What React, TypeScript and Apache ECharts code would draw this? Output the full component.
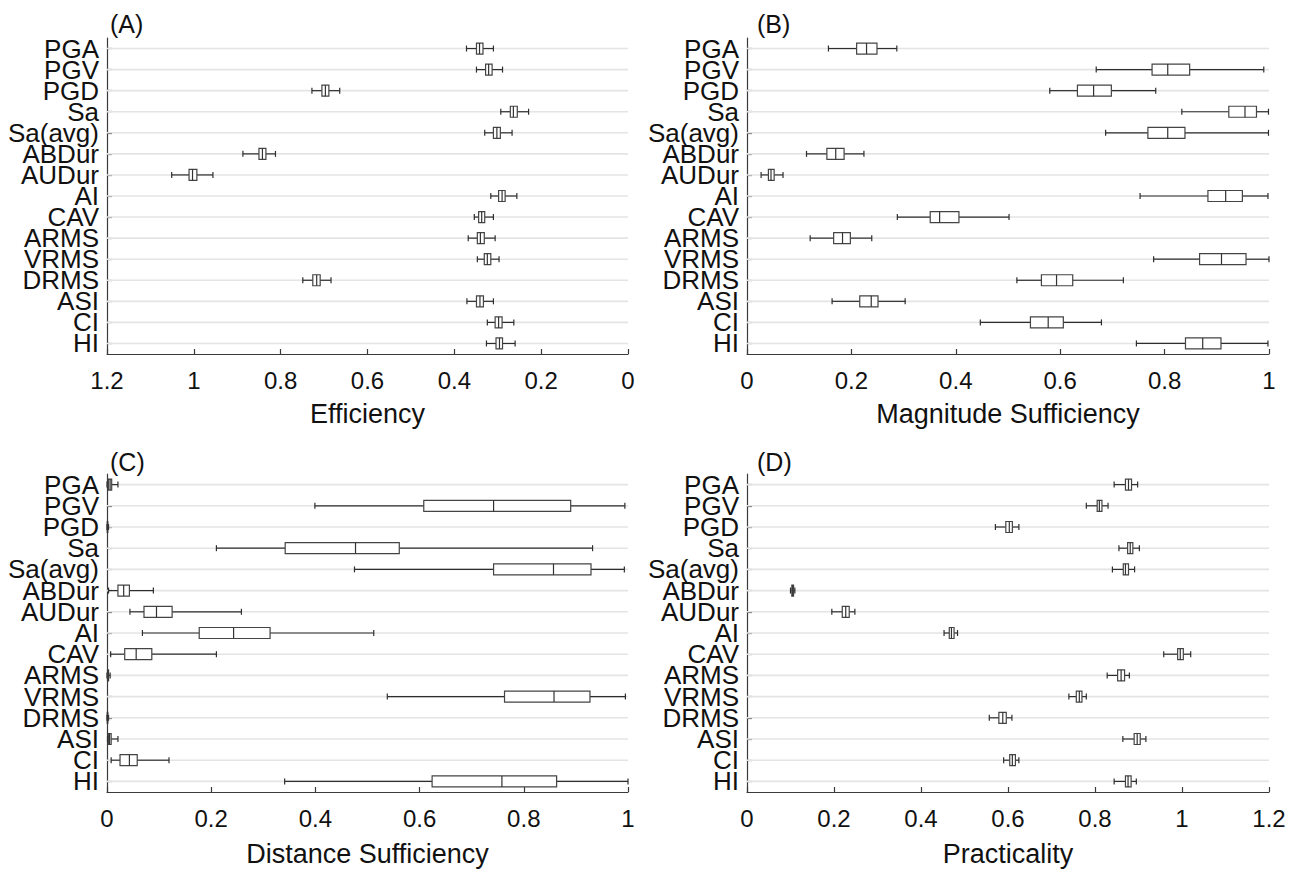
import React, { useEffect, useRef } from "react";
import * as echarts from "echarts";

const categories = ["PGA", "PGV", "PGD", "Sa", "Sa(avg)", "ABDur", "AUDur", "AI", "CAV", "ARMS", "VRMS", "DRMS", "ASI", "CI", "HI"];

// each row: [min, q1, median, q3, max]
const efficiency = [
  [0.310, 0.334, 0.342, 0.349, 0.372],
  [0.289, 0.313, 0.321, 0.328, 0.349],
  [0.664, 0.689, 0.697, 0.705, 0.728],
  [0.229, 0.255, 0.264, 0.271, 0.293],
  [0.267, 0.294, 0.302, 0.310, 0.330],
  [0.812, 0.834, 0.842, 0.850, 0.887],
  [0.956, 0.993, 1.003, 1.011, 1.051],
  [0.256, 0.283, 0.290, 0.298, 0.316],
  [0.310, 0.330, 0.337, 0.344, 0.354],
  [0.306, 0.331, 0.340, 0.347, 0.368],
  [0.297, 0.316, 0.324, 0.331, 0.347],
  [0.684, 0.709, 0.717, 0.726, 0.749],
  [0.310, 0.333, 0.341, 0.349, 0.371],
  [0.263, 0.290, 0.298, 0.306, 0.324],
  [0.260, 0.289, 0.296, 0.304, 0.326],
];

const magnitudeSufficiency = [
  [0.156, 0.210, 0.229, 0.249, 0.287],
  [0.669, 0.776, 0.806, 0.848, 0.990],
  [0.580, 0.633, 0.664, 0.698, 0.783],
  [0.833, 0.923, 0.954, 0.976, 0.999],
  [0.687, 0.768, 0.806, 0.839, 0.999],
  [0.114, 0.153, 0.170, 0.186, 0.224],
  [0.027, 0.041, 0.046, 0.052, 0.069],
  [0.753, 0.883, 0.917, 0.949, 0.998],
  [0.288, 0.351, 0.369, 0.406, 0.502],
  [0.121, 0.166, 0.183, 0.198, 0.239],
  [0.779, 0.867, 0.909, 0.956, 1.000],
  [0.517, 0.564, 0.593, 0.624, 0.721],
  [0.163, 0.216, 0.238, 0.251, 0.303],
  [0.447, 0.543, 0.577, 0.606, 0.679],
  [0.746, 0.840, 0.873, 0.908, 0.998],
];

const distanceSufficiency = [
  [0.000, 0.003, 0.006, 0.009, 0.021],
  [0.399, 0.608, 0.742, 0.890, 0.994],
  [0.000, 0.0005, 0.001, 0.0015, 0.003],
  [0.210, 0.342, 0.477, 0.561, 0.932],
  [0.475, 0.742, 0.857, 0.929, 0.993],
  [0.003, 0.021, 0.032, 0.043, 0.089],
  [0.044, 0.071, 0.095, 0.125, 0.258],
  [0.068, 0.177, 0.243, 0.313, 0.512],
  [0.007, 0.034, 0.056, 0.086, 0.210],
  [0.000, 0.001, 0.002, 0.003, 0.006],
  [0.538, 0.763, 0.858, 0.927, 0.995],
  [0.000, 0.0005, 0.001, 0.0015, 0.003],
  [0.001, 0.003, 0.005, 0.008, 0.021],
  [0.008, 0.025, 0.043, 0.058, 0.119],
  [0.341, 0.624, 0.758, 0.863, 1.000],
];

const practicality = [
  [0.844, 0.870, 0.877, 0.884, 0.898],
  [0.780, 0.805, 0.810, 0.816, 0.830],
  [0.571, 0.595, 0.603, 0.610, 0.625],
  [0.855, 0.875, 0.881, 0.887, 0.902],
  [0.840, 0.865, 0.870, 0.877, 0.891],
  [0.100, 0.103, 0.105, 0.107, 0.110],
  [0.195, 0.219, 0.227, 0.235, 0.248],
  [0.453, 0.465, 0.470, 0.476, 0.484],
  [0.958, 0.990, 0.996, 1.003, 1.020],
  [0.828, 0.852, 0.860, 0.868, 0.879],
  [0.740, 0.757, 0.764, 0.770, 0.780],
  [0.557, 0.579, 0.588, 0.596, 0.609],
  [0.864, 0.890, 0.897, 0.904, 0.917],
  [0.590, 0.604, 0.610, 0.617, 0.625],
  [0.844, 0.870, 0.876, 0.883, 0.895],
];

const panelLabels = ["(A)", "(B)", "(C)", "(D)"];
const axisTitles = ["Efficiency", "Magnitude Sufficiency", "Distance Sufficiency", "Practicality"];
const axisMax = [1.2, 1, 1, 1.2];
const axisInverse = [true, false, false, false];
const panelData = [efficiency, magnitudeSufficiency, distanceSufficiency, practicality];

const FONT = "'Liberation Sans', Arial, Helvetica, sans-serif";
const AXIS_COLOR = "#3a3a3a";
const TEXT_COLOR = "#111111";

function renderBox(params: any, api: any) {
  const cat = api.value(0);
  const xs = [1, 2, 3, 4, 5].map((i) => api.coord([api.value(i), cat])[0]);
  const y = api.coord([api.value(1), cat])[1];
  const cs = params.coordSys;
  const bh = 11;
  const ch = 6;
  const lo = Math.min(xs[0], xs[4]);
  const hi = Math.max(xs[0], xs[4]);
  const q1 = Math.min(xs[1], xs[3]);
  const q3 = Math.max(xs[1], xs[3]);
  const med = xs[2];
  const wStyle = { stroke: "#2e2e2e", lineWidth: 1.2 };
  return {
    type: "group",
    children: [
      { type: "line", shape: { x1: cs.x, y1: y, x2: cs.x + cs.width, y2: y }, style: { stroke: "#e4e4e4", lineWidth: 1.6 } },
      { type: "line", shape: { x1: lo, y1: y, x2: q1, y2: y }, style: wStyle },
      { type: "line", shape: { x1: q3, y1: y, x2: hi, y2: y }, style: wStyle },
      { type: "line", shape: { x1: lo, y1: y - ch / 2, x2: lo, y2: y + ch / 2 }, style: wStyle },
      { type: "line", shape: { x1: hi, y1: y - ch / 2, x2: hi, y2: y + ch / 2 }, style: wStyle },
      { type: "rect", shape: { x: q1, y: y - bh / 2, width: Math.max(q3 - q1, 0.5), height: bh }, style: { fill: "#ffffff", stroke: "#444444", lineWidth: 1.2 } },
      { type: "line", shape: { x1: med, y1: y - bh / 2, x2: med, y2: y + bh / 2 }, style: { stroke: "#333333", lineWidth: 1.2 } },
    ],
  };
}

export default function App() {
  const ref = useRef<HTMLDivElement>(null);
  useEffect(() => {
    document.body.style.margin = "0";
    if (!ref.current) return;
    const chart = echarts.init(ref.current, undefined, { renderer: "svg" });

    const grids = [
      { left: 107, top: 38, width: 521, height: 316 },
      { left: 747, top: 38, width: 522, height: 316 },
      { left: 107, top: 474, width: 521, height: 318 },
      { left: 747, top: 474, width: 522, height: 318 },
    ];
    const nameGaps = [46, 46, 48, 48];

    const xAxes = grids.map((_, i) => ({
      type: "value",
      gridIndex: i,
      min: 0,
      max: axisMax[i],
      interval: 0.2,
      inverse: axisInverse[i],
      name: axisTitles[i],
      nameLocation: "middle",
      nameGap: nameGaps[i],
      nameTextStyle: { fontSize: 27, color: TEXT_COLOR, fontFamily: FONT },
      axisLine: { show: true, onZero: false, lineStyle: { color: AXIS_COLOR, width: 1.2 } },
      axisTick: { show: true, inside: true, length: 5, lineStyle: { color: AXIS_COLOR, width: 1.2 } },
      axisLabel: { fontSize: 24, color: TEXT_COLOR, fontFamily: FONT, margin: 14 },
      splitLine: { show: false },
    }));

    const yAxes = grids.map((_, i) => ({
      type: "category",
      gridIndex: i,
      data: categories,
      inverse: true,
      axisLine: { show: true, onZero: false, lineStyle: { color: AXIS_COLOR, width: 1.2 } },
      axisTick: { show: true, inside: true, alignWithLabel: true, length: 5, lineStyle: { color: AXIS_COLOR, width: 1.2 } },
      axisLabel: { interval: 0, fontSize: 26, lineHeight: 21, color: TEXT_COLOR, fontFamily: FONT, margin: 8 },
      splitLine: { show: false },
    }));

    const series = panelData.map((rows, i) => ({
      type: "custom",
      xAxisIndex: i,
      yAxisIndex: i,
      coordinateSystem: "cartesian2d",
      renderItem: renderBox,
      encode: { x: [1, 2, 3, 4, 5], y: 0 },
      data: rows.map((r, k) => [k, ...r]),
      silent: true,
    }));

    const labelPos = [
      { x: 110, y: 24 },
      { x: 757, y: 24 },
      { x: 110, y: 462 },
      { x: 757, y: 462 },
    ];

    chart.setOption({
      animation: false,
      backgroundColor: "#ffffff",
      grid: grids,
      xAxis: xAxes,
      yAxis: yAxes,
      series,
      graphic: panelLabels.map((t, i) => ({
        type: "text",
        x: labelPos[i].x,
        y: labelPos[i].y,
        style: { text: t, fontSize: 25, fill: TEXT_COLOR, fontFamily: FONT, verticalAlign: "middle", align: "left" },
      })),
    } as any);

    return () => chart.dispose();
  }, []);
  return <div ref={ref} style={{ width: 1299, height: 871 }} />;
}
